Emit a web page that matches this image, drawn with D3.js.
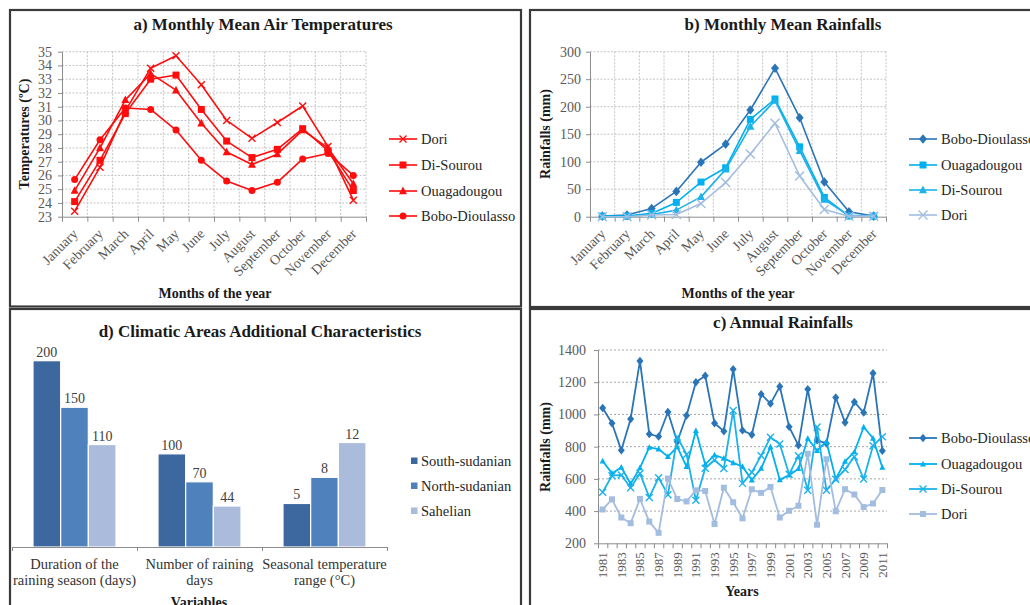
<!DOCTYPE html>
<html>
<head>
<meta charset="utf-8">
<script src="https://cdn.jsdelivr.net/npm/d3@7"></script>
<style>
  html, body { margin: 0; padding: 0; background: #fff; overflow: hidden; }
  svg { display: block; font-family: "Liberation Serif", "Times New Roman", serif; }
</style>
</head>
<body>
<svg id="fig" width="1030" height="605"></svg>
<script>
// ---------- data ----------
const months = ["January", "February", "March", "April", "May", "June", "July",
  "August", "September", "October", "November", "December"];

// a) monthly mean air temperatures (°C)
const tempDori        = [23.4, 26.6, 30.7, 33.8, 34.7, 32.6, 30.0, 28.7, 29.85, 31.05, 28.1, 24.2];
const tempDiSourou    = [24.1, 27.1, 30.5, 33.0, 33.3, 30.8, 28.5, 27.3, 27.9, 29.4, 27.8, 24.9];
const tempOuagadougou = [24.9, 28.0, 31.5, 33.4, 32.2, 29.8, 27.7, 26.8, 27.55, 29.3, 28.0, 25.4];
const tempBobo        = [25.7, 28.6, 30.9, 30.8, 29.3, 27.1, 25.6, 24.9, 25.5, 27.2, 27.6, 26.0];
const tempTicks = [23, 24, 25, 26, 27, 28, 29, 30, 31, 32, 33, 34, 35];

// b) monthly mean rainfalls (mm)
const rainBobo        = [1, 3, 15, 46, 99, 132, 194, 270, 180, 63, 9, 1];
const rainOuagadougou = [1, 1, 6, 26, 63, 89, 177, 214, 127, 35, 1, 1];
const rainDiSourou    = [0, 0, 4, 12, 36, 86, 164, 211, 120, 31, 2, 2];
const rainDori        = [0, 0, 3, 4, 24, 62, 114, 170, 74, 13, 1, 1];
const rainTicks = [0, 50, 100, 150, 200, 250, 300];

// c) annual rainfalls (mm)
const years = ["1981", "1982", "1983", "1984", "1985", "1986", "1987", "1988", "1989", "1990",
  "1991", "1992", "1993", "1994", "1995", "1996", "1997", "1998", "1999", "2000",
  "2001", "2002", "2003", "2004", "2005", "2006", "2007", "2008", "2009", "2010", "2011"];
const annualBobo        = [1040, 945, 777, 972, 1332, 878, 863, 1015, 830, 993, 1200, 1240, 945, 896, 1281,
  901, 874, 1126, 1067, 1173, 923, 808, 1157, 839, 820, 1105, 950, 1077, 1011, 1256, 774];
const annualOuagadougou = [711, 634, 672, 570, 668, 795, 785, 738, 799, 676, 899, 690, 748, 727, 700,
  676, 593, 665, 799, 594, 623, 663, 851, 775, 832, 600, 708, 767, 922, 852, 671];
const annualDiSourou    = [517, 620, 624, 545, 634, 485, 607, 502, 860, 752, 467, 666, 717, 665, 1025,
  572, 641, 744, 858, 817, 628, 744, 530, 922, 530, 597, 658, 738, 599, 805, 862];
const annualDori        = [410, 473, 360, 325, 475, 335, 265, 602, 475, 460, 529, 525, 320, 545, 455,
  355, 535, 513, 550, 360, 402, 433, 756, 315, 722, 399, 536, 503, 425, 447, 531];
const annualTicks = [200, 400, 600, 800, 1000, 1200, 1400];

// d) climatic areas additional characteristics
const variables = [
  ["Duration of the", "raining season (days)"],
  ["Number of raining", "days"],
  ["Seasonal temperature", "range (°C)"]
];
const zones = ["South-sudanian", "North-sudanian", "Sahelian"];
const southSudanian = [200, 100, 5];
const northSudanian = [150, 70, 8];
const sahelian      = [110, 44, 12];

// ---------- helpers ----------
const svg = d3.select("#fig");
const TEXT = "#262626", TICK = "#595959", AXIS = "#8c8c8c";

function frame(x0, y0, x1, y1) {
  svg.append("rect")
    .attr("x", x0).attr("y", y0).attr("width", x1 - x0).attr("height", y1 - y0)
    .attr("fill", "none").attr("stroke", "#3a3a3a").attr("stroke-width", 2.2);
}

function title(text, x, y) {
  svg.append("text").attr("x", x).attr("y", y).attr("text-anchor", "middle")
    .attr("font-size", 17).attr("font-weight", "bold").attr("fill", "#1a1a1a").text(text);
}

function axisTitle(text, x, y, rotate) {
  const t = svg.append("text").attr("text-anchor", "middle")
    .attr("font-size", 14).attr("font-weight", "bold").attr("fill", "#1a1a1a").text(text);
  if (rotate) t.attr("transform", `translate(${x},${y}) rotate(-90)`);
  else t.attr("x", x).attr("y", y);
}

function markerPath(type, s) {
  const r = s / 2;
  switch (type) {
    case "x": return `M${-r},${-r}L${r},${r}M${-r},${r}L${r},${-r}`;
    case "square": return `M${-r},${-r}h${s}v${s}h${-s}Z`;
    case "triangle": return `M0,${-r * 1.1}L${r},${r * 0.8}L${-r},${r * 0.8}Z`;
    case "diamond": return `M0,${-r * 1.2}L${r},0L0,${r * 1.2}L${-r},0Z`;
    default: return d3.symbol(d3.symbolCircle, Math.PI * r * r)();
  }
}

function addMarker(g, s, cx, cy) {
  const p = g.append("path").attr("d", markerPath(s.marker, s.size))
    .attr("transform", `translate(${cx},${cy})`);
  if (s.marker === "x") p.attr("fill", "none").attr("stroke", s.color).attr("stroke-width", 1.4);
  else p.attr("fill", s.color).attr("stroke", "none");
}

function lineChart(o) {
  const g = svg.append("g");
  const n = o.categories.length;
  const x = d3.scaleBand().domain(o.categories).range([o.left, o.right]);
  const xEdge = d3.scaleLinear().domain([0, n]).range([o.left, o.right]);
  const y = d3.scaleLinear().domain(o.domain).range([o.bottom, o.top]);
  const cx = c => x(c) + x.bandwidth() / 2;

  // gridlines
  g.append("g").selectAll("line").data(o.ticks.slice(1)).join("line")
    .attr("x1", o.left).attr("x2", o.right)
    .attr("y1", d => y(d)).attr("y2", d => y(d))
    .attr("stroke", o.gridColor).attr("stroke-dasharray", o.gridDash);
  if (o.vgrid) {
    g.append("g").selectAll("line").data(d3.range(1, n + 1)).join("line")
      .attr("x1", d => xEdge(d)).attr("x2", d => xEdge(d))
      .attr("y1", o.top).attr("y2", o.bottom)
      .attr("stroke", o.gridColor).attr("stroke-dasharray", o.gridDash);
  }

  // y axis
  const ya = g.append("g").attr("transform", `translate(${o.left},0)`)
    .call(d3.axisLeft(y).tickValues(o.ticks).tickSize(4).tickSizeOuter(0)
      .tickPadding(o.tickPad).tickFormat(d3.format("d")));
  ya.attr("font-family", null).attr("font-size", 14);
  ya.select(".domain").attr("stroke", AXIS);
  ya.selectAll(".tick line").attr("stroke", AXIS);
  ya.selectAll(".tick text").attr("fill", TICK);

  // x axis: ticks between categories
  const xa = g.append("g").attr("transform", `translate(0,${o.bottom})`)
    .call(d3.axisBottom(xEdge).tickValues(d3.range(n + 1)).tickSize(5).tickSizeOuter(0).tickFormat(""));
  xa.select(".domain").attr("stroke", AXIS);
  xa.selectAll(".tick line").attr("stroke", AXIS);

  // x labels
  const labels = o.categories.filter((c, i) => i % o.labelEvery === 0);
  g.append("g").selectAll("text").data(labels).join("text")
    .attr("transform", c => o.labelRotate === 45
      ? `translate(${cx(c) + 4},${o.bottom + 18}) rotate(-45)`
      : `translate(${cx(c) + 4.5},${o.bottom + 9}) rotate(-90)`)
    .attr("text-anchor", "end").attr("font-size", o.labelSize).attr("fill", TICK)
    .text(c => c);

  // series
  o.series.forEach(s => {
    const line = d3.line().x((d, i) => cx(o.categories[i])).y(d => y(d));
    g.append("path").datum(s.values).attr("d", line)
      .attr("fill", "none").attr("stroke", s.color).attr("stroke-width", o.lineWidth)
      .attr("stroke-linejoin", "round");
    const mg = g.append("g");
    s.values.forEach((v, i) => addMarker(mg, s, cx(o.categories[i]), y(v)));
  });

  // legend
  const lg = g.append("g");
  o.series.forEach((s, i) => {
    const ly = o.legend.ys[i];
    lg.append("line").attr("x1", o.legend.x).attr("x2", o.legend.x + 28)
      .attr("y1", ly).attr("y2", ly).attr("stroke", s.color).attr("stroke-width", o.lineWidth);
    addMarker(lg, s, o.legend.x + 14, ly);
    lg.append("text").attr("x", o.legend.x + 32).attr("y", ly + 5)
      .attr("font-size", 14.5).attr("fill", TEXT).text(s.name);
  });
}

// ---------- panel frames ----------
frame(10, 10, 521, 306.5);
frame(530, 10, 1040, 307);
frame(10, 309, 521, 612);
frame(530, 309, 1040, 612);

// ---------- a) temperatures ----------
const RED = "#ff0d0d";
title("a) Monthly Mean Air Temperatures", 263, 30);
lineChart({
  categories: months, left: 62, right: 366, top: 51.7, bottom: 216.7,
  domain: [23, 35], ticks: tempTicks, tickPad: 6,
  gridColor: "#c4c4c4", gridDash: "2,1.5", vgrid: true,
  labelEvery: 1, labelRotate: 45, labelSize: 14, lineWidth: 1.6,
  series: [
    { name: "Dori", values: tempDori, color: RED, marker: "x", size: 7 },
    { name: "Di-Sourou", values: tempDiSourou, color: RED, marker: "square", size: 7 },
    { name: "Ouagadougou", values: tempOuagadougou, color: RED, marker: "triangle", size: 8 },
    { name: "Bobo-Dioulasso", values: tempBobo, color: RED, marker: "circle", size: 7 }
  ],
  legend: { x: 389, ys: [139, 165, 191, 216] }
});
axisTitle("Temperatures (ºC)", 29, 134, true);
axisTitle("Months of the year", 215, 298, false);

// ---------- b) rainfalls ----------
const BLUE_DARK = "#2a74b8", BLUE_CYAN = "#00b0f0", BLUE_SKY = "#1cb2ea", BLUE_LIGHT = "#a3bde0";
title("b) Monthly Mean Rainfalls", 783, 30);
lineChart({
  categories: months, left: 590, right: 886, top: 51.7, bottom: 216.7,
  domain: [0, 300], ticks: rainTicks, tickPad: 5,
  gridColor: "#c4c4c4", gridDash: "2,1.5", vgrid: true,
  labelEvery: 1, labelRotate: 45, labelSize: 14, lineWidth: 1.6,
  series: [
    { name: "Bobo-Dioulasso", values: rainBobo, color: BLUE_DARK, marker: "diamond", size: 8 },
    { name: "Ouagadougou", values: rainOuagadougou, color: BLUE_CYAN, marker: "square", size: 7 },
    { name: "Di-Sourou", values: rainDiSourou, color: BLUE_SKY, marker: "triangle", size: 8 },
    { name: "Dori", values: rainDori, color: BLUE_LIGHT, marker: "x", size: 9 }
  ],
  legend: { x: 909, ys: [139, 165, 190, 215] }
});
axisTitle("Rainfalls (mm)", 550, 134, true);
axisTitle("Months of the year", 738, 298, false);

// ---------- c) annual rainfalls ----------
title("c) Annual Rainfalls", 783, 328);
lineChart({
  categories: years, left: 598, right: 887, top: 350, bottom: 543.3,
  domain: [200, 1400], ticks: annualTicks, tickPad: 8,
  gridColor: "#a6a6a6", gridDash: "2,2", vgrid: false,
  labelEvery: 2, labelRotate: 90, labelSize: 13, lineWidth: 1.8,
  series: [
    { name: "Bobo-Dioulasso", values: annualBobo, color: BLUE_DARK, marker: "diamond", size: 7 },
    { name: "Ouagadougou", values: annualOuagadougou, color: BLUE_CYAN, marker: "triangle", size: 6 },
    { name: "Di-Sourou", values: annualDiSourou, color: BLUE_SKY, marker: "x", size: 7 },
    { name: "Dori", values: annualDori, color: BLUE_LIGHT, marker: "square", size: 6 }
  ],
  legend: { x: 909, ys: [438, 464, 489, 514] }
});
axisTitle("Rainfalls (mm)", 550, 447, true);
axisTitle("Years", 742, 596, false);

// ---------- d) climatic areas ----------
title("d) Climatic Areas Additional Characteristics", 260, 337);
(function () {
  const g = svg.append("g");
  const base = 547;
  const groupKeys = variables.map(v => v.join(" "));
  const x0 = d3.scaleBand().domain(groupKeys).range([12, 387]);
  const x1 = d3.scaleBand().domain(zones).range([21, 104]);
  // days share one scale; the temperature range (°C) uses its own
  const yDays = d3.scaleLinear().domain([0, 200]).range([base, 360.7]);
  const yTemp = d3.scaleLinear().domain([0, 12]).range([base, 442.5]);
  const colors = { "South-sudanian": "#3d689f", "North-sudanian": "#4f81bd", "Sahelian": "#aabbdc" };
  const seriesByZone = { "South-sudanian": southSudanian, "North-sudanian": northSudanian, "Sahelian": sahelian };

  const bars = [];
  groupKeys.forEach((k, gi) => {
    zones.forEach(z => {
      const v = seriesByZone[z][gi];
      const sc = gi === 2 ? yTemp : yDays;
      bars.push({ k, z, v, sc });
    });
  });

  g.selectAll("rect").data(bars).join("rect")
    .attr("x", d => x0(d.k) + x1(d.z)).attr("width", x1.bandwidth())
    .attr("y", d => d.sc(d.v)).attr("height", d => base - d.sc(d.v))
    .attr("fill", d => colors[d.z]).attr("stroke", "#fff").attr("stroke-width", 1.2);

  g.selectAll("text.val").data(bars).join("text").attr("class", "val")
    .attr("x", d => x0(d.k) + x1(d.z) + x1.bandwidth() / 2)
    .attr("y", d => d.sc(d.v) - 4)
    .attr("text-anchor", "middle").attr("font-size", 14).attr("fill", "#404040")
    .text(d => d.v);

  // category axis
  const edge = d3.scaleLinear().domain([0, groupKeys.length]).range([12, 387]);
  const xa = g.append("g").attr("transform", `translate(0,${base})`)
    .call(d3.axisBottom(edge).tickValues(d3.range(groupKeys.length + 1)).tickSize(4).tickSizeOuter(0).tickFormat(""));
  xa.select(".domain").attr("stroke", AXIS);
  xa.selectAll(".tick line").attr("stroke", AXIS);

  variables.forEach((lines, gi) => {
    const cxg = x0(groupKeys[gi]) + x0.bandwidth() / 2;
    lines.forEach((t, li) => {
      g.append("text").attr("x", cxg).attr("y", 568.5 + li * 16.5)
        .attr("text-anchor", "middle").attr("font-size", 14.5).attr("fill", "#333").text(t);
    });
  });

  // legend
  const legendYs = [461, 486, 511];
  zones.forEach((z, i) => {
    g.append("rect").attr("x", 411).attr("y", legendYs[i] - 3.5).attr("width", 6.5).attr("height", 6.5)
      .attr("fill", colors[z]);
    g.append("text").attr("x", 421).attr("y", legendYs[i] + 5)
      .attr("font-size", 14.5).attr("fill", TEXT).text(z);
  });
})();
axisTitle("Variables", 199, 607, false);
</script>
</body>
</html>
